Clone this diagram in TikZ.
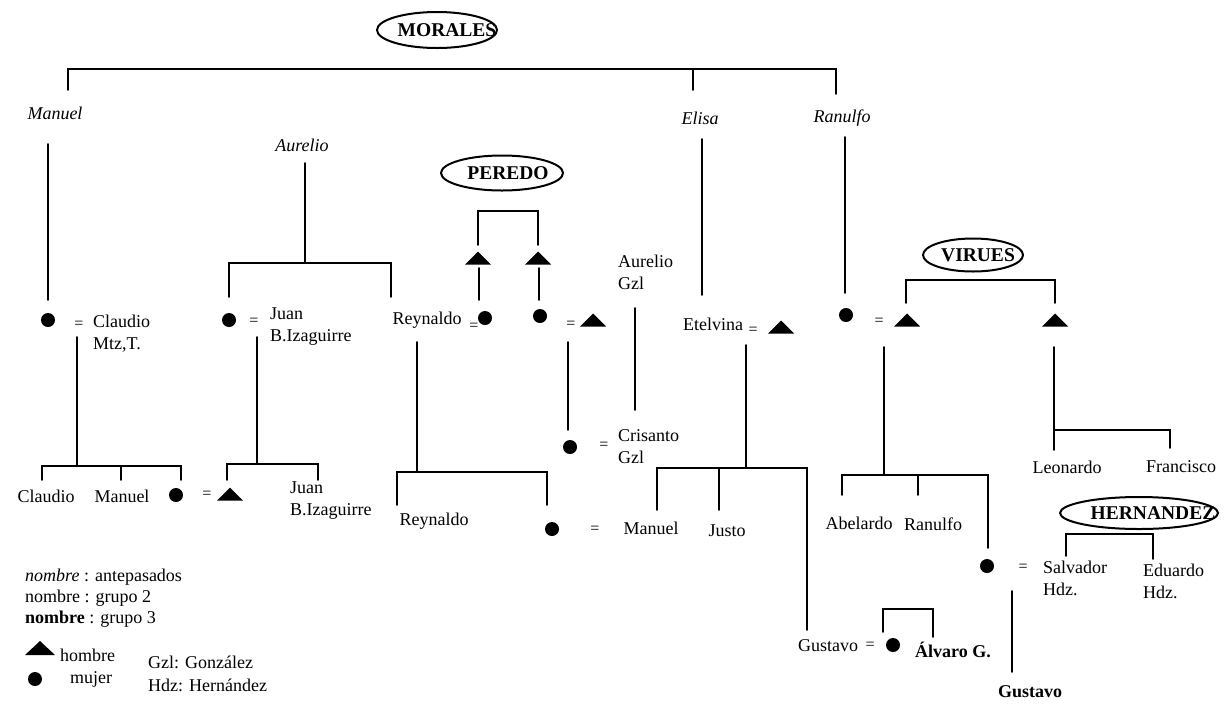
\documentclass[tikz,border=0pt]{standalone}
\usepackage{fontspec}
\setmainfont{Liberation Serif}
\usetikzlibrary{shapes.geometric}
\tikzset{
  ln/.style={line width=1.8pt, line cap=round, line join=miter},
  txt/.style={inner sep=0pt, align=left},
  anc/.style={txt, font=\fontsize{18}{22}\selectfont\itshape},
  fem/.style={circle, fill=black, minimum size=14pt, inner sep=0pt},
  masc/.style={inner sep=0pt, minimum width=26pt, minimum height=13pt,
    path picture={\fill[black] (path picture bounding box.south west) -- (path picture bounding box.south east) -- (path picture bounding box.north) -- cycle;}},
  eq/.style={inner sep=0pt, font=\fontsize{16}{18}\selectfont},
  clan/.style={ellipse, draw, line width=2pt, inner sep=0pt},
  clantxt/.style={inner sep=0pt, font=\fontsize{19.5}{22}\selectfont\bfseries}
}
\begin{document}
\begin{tikzpicture}[x=1pt, y=-1pt, font=\fontsize{18}{22}\selectfont]
\useasboundingbox[fill=white] (0,0) rectangle (1225,705);

% ---- clan ellipses
\node[clan, minimum width=120pt, minimum height=36pt] (morales) at (437,30) {};
\node[clantxt] (moralesT) at (447,30) {MORALES};
\node[clan, minimum width=122pt, minimum height=35pt] (peredo) at (502,173) {};
\node[clantxt] (peredoT) at (508,173) {PEREDO};
\node[clan, minimum width=100pt, minimum height=33pt] (virues) at (973,255) {};
\node[clantxt] (viruesT) at (978,255) {VIRUES};
\node[clan, minimum width=158pt, minimum height=32pt] (hernandez) at (1139,513) {};
\node[clantxt] (hernandezT) at (1153,513) {HERNANDEZ};

% ---- ancestors
\node[anc] (manuel) at (55,113) {Manuel};
\node[anc] (aurelio) at (302,145) {Aurelio};
\node[anc] (elisa) at (700,118) {Elisa};
\node[anc] (ranulfo) at (842,118) {Ranulfo};

% ---- row 2
\node[fem] (f1) at (48,320) {};
\node[eq] (e1) at (79,325) {=};
\node[txt, anchor=west] (claudio) at (93,334) {Claudio\\Mtz,T.};
\node[fem] (f2) at (229,320) {};
\node[eq] (e2) at (254,322) {=};
\node[txt, anchor=west] (juan) at (270,327) {Juan\\B.Izaguirre};
\node[txt] (reynaldo) at (427,320) {Reynaldo};
\node[eq] (e3) at (474,327) {=};
\node[fem] (f3) at (485,318) {};
\node[masc] (m1) at (478,258) {};
\node[masc] (m2) at (538,258) {};
\node[fem] (f4) at (540,316) {};
\node[eq] (e4) at (571,325) {=};
\node[masc] (m3) at (593,320) {};
\node[txt, anchor=west] (aureliogzl) at (618,272) {Aurelio\\Gzl};
\node[txt] (etelvina) at (713,324) {Etelvina};
\node[eq] (e5) at (753,331) {=};
\node[masc] (m4) at (781,327) {};
\node[fem] (f5) at (846,315) {};
\node[eq] (e6) at (879,322) {=};
\node[masc] (m5) at (907,320) {};
\node[masc] (m6) at (1055,320) {};

% ---- row 3
\node[fem] (f6) at (570,447) {};
\node[eq] (e7) at (604,446) {=};
\node[txt, anchor=west] (crisanto) at (618,447) {Crisanto\\Gzl};
\node[txt] (claudio2) at (46,496) {Claudio};
\node[txt] (manuel2) at (122,496) {Manuel};
\node[fem] (f7) at (176,495) {};
\node[eq] (e8) at (207,495) {=};
\node[masc] (m7) at (230,494) {};
\node[txt, anchor=west] (juan2) at (290,501) {Juan\\B.Izaguirre};
\node[txt] (leonardo) at (1067,467) {Leonardo};
\node[txt] (francisco) at (1181,467) {Francisco};
\node[txt] (reynaldo2) at (434,521) {Reynaldo};
\node[fem] (f8) at (552,529) {};
\node[eq] (e9) at (595,530) {=};
\node[txt] (manuel3) at (651,528) {Manuel};
\node[txt] (justo) at (727,531) {Justo};
\node[txt] (abelardo) at (859,523) {Abelardo};
\node[txt] (ranulfo2) at (933,524) {Ranulfo};
\node[fem] (f9) at (987,566) {};
\node[eq] (e10) at (1023,568) {=};
\node[txt, anchor=west] (salvador) at (1043,578) {Salvador\\Hdz.};
\node[txt, anchor=west] (eduardo) at (1143,581) {Eduardo\\Hdz.};
\node[txt] (gustavo1) at (828,646) {Gustavo};
\node[eq] (e11) at (870,646) {=};
\node[fem] (f10) at (893,645) {};
\node[txt, anchor=west, font=\fontsize{18}{22}\selectfont\bfseries] (alvaro) at (915,650) {Álvaro G.};
\node[txt, font=\fontsize{18}{22}\selectfont\bfseries] (gustavo2) at (1030,692) {Gustavo};

% ---- legend
\node[txt, anchor=west] (leg1) at (25,577) {\textit{nombre} : antepasados};
\node[txt, anchor=west] (leg2) at (25,598) {nombre : grupo 2};
\node[txt, anchor=west] (leg3) at (25,619) {\textbf{nombre} : grupo 3};
\node[masc, minimum width=30pt, minimum height=14pt] (legm) at (40,648) {};
\node[txt, anchor=west] (hombre) at (60,655) {hombre};
\node[fem] (legf) at (35,679) {};
\node[txt, anchor=west] (mujer) at (70,679) {mujer};
\node[txt, anchor=west] (gzl) at (148,662) {Gzl: González};
\node[txt, anchor=west] (hdz) at (148,685) {Hdz: Hernández};

% ---- connector coordinates
\coordinate (mbar) at (437,69);
\coordinate (pManuel) at (68,90);
\coordinate (pElisa) at (693,90);
\coordinate (pRanulfo) at (836,94);
\coordinate (lManuelT) at (48,144);   \coordinate (lManuelB) at (48,300);
\coordinate (lAurT) at (305,163);     \coordinate (aurbar) at (305,263);
\coordinate (pF2) at (229,297);       \coordinate (pRey) at (391,297);
\coordinate (lElisaT) at (702,139);   \coordinate (lElisaB) at (702,295);
\coordinate (lRanT) at (845,137);     \coordinate (lRanB) at (845,293);
\coordinate (lCT) at (77,337);        \coordinate (cbar) at (77,466);
\coordinate (pClaudio2) at (42,480);  \coordinate (pManuel2) at (121,480); \coordinate (pF7) at (181,480);
\coordinate (lJT) at (257,337);       \coordinate (jbar) at (257,464);
\coordinate (pM7) at (227,480);       \coordinate (pJuan2) at (318,480);
\coordinate (lRT) at (417,342);       \coordinate (rbar) at (417,472);
\coordinate (pRey2) at (397,505);     \coordinate (pF8) at (547,505);
\coordinate (pbar) at (508,211);
\coordinate (pM1) at (478,245);       \coordinate (pM2) at (538,245);
\coordinate (lM1T) at (479,268);      \coordinate (lM1B) at (479,300);
\coordinate (lM2T) at (539,268);      \coordinate (lM2B) at (539,300);
\coordinate (lF4T) at (568,342);      \coordinate (lF4B) at (568,430);
\coordinate (lAgT) at (635,308);      \coordinate (lAgB) at (635,410);
\coordinate (lET) at (746,345);       \coordinate (ebar) at (746,468);
\coordinate (pManuel3) at (657,510);  \coordinate (pJusto) at (719,510); \coordinate (pGus1) at (807,630);
\coordinate (gbar) at (908,609);
\coordinate (pF10) at (883,632);      \coordinate (pAlv) at (933,637);
\coordinate (vbar) at (980,280);
\coordinate (pM5) at (906,303);       \coordinate (pM6) at (1055,303);
\coordinate (lVT) at (884,347);       \coordinate (vbar2) at (884,475);
\coordinate (pAbel) at (842,495);     \coordinate (pRan2) at (918,495); \coordinate (pF9) at (988,548);
\coordinate (hbar) at (1110,534);
\coordinate (pSal) at (1066,556);     \coordinate (pEdu) at (1153,559);
\coordinate (lST) at (1012,591);      \coordinate (lSB) at (1012,672);
\coordinate (lM6T) at (1054,347);     \coordinate (lM6B) at (1054,450);
\coordinate (lbar) at (1054,430);     \coordinate (pFran) at (1170,448);

% ---- connectors
\draw[ln] (pManuel) -- (pManuel |- mbar) -- (pRanulfo |- mbar) -- (pRanulfo);
\draw[ln] (pElisa |- mbar) -- (pElisa);
\draw[ln] (lManuelT) -- (lManuelB);
\draw[ln] (lAurT) -- (aurbar);
\draw[ln] (pF2) -- (pF2 |- aurbar) -- (pRey |- aurbar) -- (pRey);
\draw[ln] (lElisaT) -- (lElisaB);
\draw[ln] (lRanT) -- (lRanB);
\draw[ln] (lCT) -- (cbar);
\draw[ln] (pClaudio2) -- (pClaudio2 |- cbar) -- (pF7 |- cbar) -- (pF7);
\draw[ln] (pManuel2 |- cbar) -- (pManuel2);
\draw[ln] (lJT) -- (jbar);
\draw[ln] (pM7) -- (pM7 |- jbar) -- (pJuan2 |- jbar) -- (pJuan2);
\draw[ln] (lRT) -- (rbar);
\draw[ln] (pRey2) -- (pRey2 |- rbar) -- (pF8 |- rbar) -- (pF8);
\draw[ln] (pM1) -- (pM1 |- pbar) -- (pM2 |- pbar) -- (pM2);
\draw[ln] (lM1T) -- (lM1B);
\draw[ln] (lM2T) -- (lM2B);
\draw[ln] (lF4T) -- (lF4B);
\draw[ln] (lAgT) -- (lAgB);
\draw[ln] (lET) -- (ebar);
\draw[ln] (pManuel3) -- (pManuel3 |- ebar) -- (pGus1 |- ebar) -- (pGus1);
\draw[ln] (pJusto |- ebar) -- (pJusto);
\draw[ln] (pF10) -- (pF10 |- gbar) -- (pAlv |- gbar) -- (pAlv);
\draw[ln] (pM5) -- (pM5 |- vbar) -- (pM6 |- vbar) -- (pM6);
\draw[ln] (lVT) -- (vbar2);
\draw[ln] (pAbel) -- (pAbel |- vbar2) -- (pF9 |- vbar2) -- (pF9);
\draw[ln] (pRan2 |- vbar2) -- (pRan2);
\draw[ln] (pSal) -- (pSal |- hbar) -- (pEdu |- hbar) -- (pEdu);
\draw[ln] (lST) -- (lSB);
\draw[ln] (lM6T) -- (lM6B);
\draw[ln] (lbar) -- (pFran |- lbar) -- (pFran);
\end{tikzpicture}
\end{document}
